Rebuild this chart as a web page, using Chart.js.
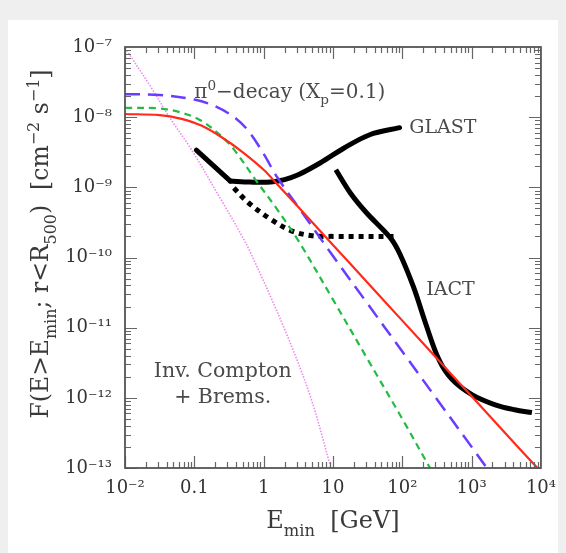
<!DOCTYPE html>
<html>
<head>
<meta charset="utf-8">
<script src="https://cdn.jsdelivr.net/npm/chart.js"></script>
<style>
html, body { margin: 0; padding: 0; background: #efefef; }
canvas { display: block; }
</style>
</head>
<body>
<canvas id="chart" width="566" height="553"></canvas>
<script>
// E_min in GeV, integral flux F(>E_min) in cm^-2 s^-1

// total (red, solid)
const totalE = [0.01, 0.0316, 0.0631, 0.126, 0.251, 0.501, 1, 1.58, 3.16, 10, 31.6, 100, 316, 1000, 3162, 8913];
const totalF = [1.11e-8, 1.07e-8, 9.55e-9, 7.59e-9, 5.13e-9, 3.16e-9, 1.78e-9, 1.10e-9, 5.25e-10, 1.51e-10, 4.37e-11, 1.26e-11, 3.63e-12, 1.05e-12, 3.02e-13, 1.0e-13];

// pi0-decay (blue, long dashes)
const pionE = [0.01, 0.0316, 0.1, 0.2, 0.398, 0.631, 1, 1.58, 3.16, 10, 31.6, 100, 316, 1000, 1660];
const pionF = [2.12e-8, 2.07e-8, 1.78e-8, 1.43e-8, 9.6e-9, 6.0e-9, 3.0e-9, 1.38e-9, 5.25e-10, 1.05e-10, 2.19e-11, 4.57e-12, 9.55e-13, 2.0e-13, 1.0e-13];

// green, short dashes
const greenE = [0.01, 0.0316, 0.0631, 0.126, 0.251, 0.380, 0.759, 1.48, 3.16, 10, 31.6, 100, 251];
const greenF = [1.36e-8, 1.33e-8, 1.17e-8, 8.91e-9, 5.25e-9, 3.39e-9, 1.29e-9, 5.25e-10, 1.74e-10, 2.51e-11, 3.55e-12, 5.01e-13, 1.0e-13];

// inverse Compton + bremsstrahlung (magenta, dotted)
const icE = [0.01, 0.0251, 0.0437, 0.0891, 0.251, 0.437, 0.661, 2.04, 4.79, 9.33];
const icF = [9.77e-8, 2.45e-8, 1.0e-8, 3.55e-9, 6.31e-10, 2.45e-10, 1.12e-10, 9.12e-12, 1.0e-12, 1.0e-13];

// GLAST sensitivity (black)
const glastE = [0.107, 0.331, 0.631, 1.26, 2.0, 3.16, 6.61, 14.5, 33.9, 91.2];
const glastF = [3.39e-9, 1.23e-9, 1.19e-9, 1.19e-9, 1.29e-9, 1.51e-9, 2.24e-9, 3.63e-9, 5.62e-9, 7.08e-9];

// black dotted
const dotE = [0.372, 0.603, 1.29, 2.51, 5.01, 10, 83.2];
const dotF = [9.77e-10, 6.03e-10, 3.47e-10, 2.40e-10, 2.04e-10, 2.0e-10, 2.0e-10];

// IACT sensitivity (black)
const iactE = [11.0, 17.8, 30.9, 66.1, 91.2, 145, 219, 339, 525, 1023, 2188, 4169, 7413];
const iactF = [1.78e-9, 8.32e-10, 4.27e-10, 1.95e-10, 1.15e-10, 3.80e-11, 1.12e-11, 3.47e-12, 1.82e-12, 1.10e-12, 7.94e-13, 6.76e-13, 6.17e-13];

const xTicks = [1e-2, 0.1, 1, 10, 1e2, 1e3, 1e4];
const xTickLabels = ['10⁻²', '0.1', '1', '10', '10²', '10³', '10⁴'];
const yTicks = [1e-13, 1e-12, 1e-11, 1e-10, 1e-9, 1e-8, 1e-7];
const yTickLabels = ['10⁻¹³', '10⁻¹²', '10⁻¹¹', '10⁻¹⁰', '10⁻⁹', '10⁻⁸', '10⁻⁷'];

const FONT = '"DejaVu Serif", "Liberation Serif", serif';

function pts(xs, ys) {
  return xs.map((x, i) => ({ x: x, y: ys[i] }));
}

// text with sub/superscript pieces
function richText(ctx, segs, x, y, size, align) {
  const parts = segs.map(s => {
    const fs = (s.sub || s.sup) ? size * 0.68 : size;
    ctx.font = fs + 'px ' + FONT;
    return { s: s, fs: fs, w: ctx.measureText(s.t).width };
  });
  const total = parts.reduce((a, p) => a + p.w, 0);
  let cx = align === 'center' ? x - total / 2 : (align === 'right' ? x - total : x);
  ctx.textAlign = 'left';
  ctx.textBaseline = 'alphabetic';
  parts.forEach(p => {
    ctx.font = p.fs + 'px ' + FONT;
    const dy = p.s.sub ? size * 0.32 : (p.s.sup ? -size * 0.4 : 0);
    ctx.fillText(p.s.t, cx, y + dy);
    cx += p.w;
  });
}

const framePlugin = {
  id: 'frame',
  beforeDraw(chart) {
    const c = chart.ctx;
    c.save();
    c.fillStyle = '#efefef';
    c.fillRect(0, 0, chart.width, chart.height);
    c.fillStyle = '#ffffff';
    c.fillRect(8, 20, 550, 533);
    c.restore();
  },
  afterDraw(chart) {
    const { ctx, chartArea: a, scales: { x, y } } = chart;
    ctx.save();
    // inward ticks on all four sides
    ctx.strokeStyle = '#666';
    ctx.lineWidth = 1.2;
    ctx.beginPath();
    for (let i = 0; i < xTicks.length - 1; i++) {
      for (let k = 1; k < 10; k++) {
        const px = Math.round(x.getPixelForValue(k * xTicks[i])) + 0.5;
        const len = k === 1 ? 12 : 6;
        ctx.moveTo(px, a.bottom); ctx.lineTo(px, a.bottom - len);
        ctx.moveTo(px, a.top); ctx.lineTo(px, a.top + len);
      }
    }
    for (let i = 0; i < yTicks.length - 1; i++) {
      for (let k = 1; k < 10; k++) {
        const py = Math.round(y.getPixelForValue(k * yTicks[i])) + 0.5;
        const len = k === 1 ? 12 : 6;
        ctx.moveTo(a.left, py); ctx.lineTo(a.left + len, py);
        ctx.moveTo(a.right, py); ctx.lineTo(a.right - len, py);
      }
    }
    ctx.stroke();
    ctx.strokeStyle = '#555';
    ctx.lineWidth = 1.8;
    ctx.strokeRect(a.left, a.top, a.width, a.height);

    // annotations
    ctx.fillStyle = '#4a4a4a';
    richText(ctx, [{ t: 'π' }, { t: '0', sup: true }, { t: '−decay (X' }, { t: 'p', sub: true }, { t: '=0.1)' }],
      x.getPixelForValue(0.1), y.getPixelForValue(1.88e-8), 20, 'left');
    richText(ctx, [{ t: 'GLAST' }], x.getPixelForValue(126), y.getPixelForValue(5.96e-9), 19, 'left');
    richText(ctx, [{ t: 'IACT' }], x.getPixelForValue(221), y.getPixelForValue(2.95e-11), 19, 'left');
    richText(ctx, [{ t: 'Inv. Compton' }], x.getPixelForValue(0.257), y.getPixelForValue(2.0e-12), 20.5, 'center');
    richText(ctx, [{ t: '+ Brems.' }], x.getPixelForValue(0.257), y.getPixelForValue(8.5e-13), 20.5, 'center');

    // axis titles
    ctx.fillStyle = '#3a3a3a';
    richText(ctx, [{ t: 'E' }, { t: 'min', sub: true }, { t: '  [GeV]' }], (a.left + a.right) / 2, 528, 24, 'center');
    ctx.translate(48, 244);
    ctx.rotate(-Math.PI / 2);
    richText(ctx, [{ t: 'F(E>E' }, { t: 'min', sub: true }, { t: '; r<R' }, { t: '500', sub: true },
      { t: ')  [cm' }, { t: '−2', sup: true }, { t: ' s' }, { t: '−1', sup: true }, { t: ']' }], 0, 0, 23.5, 'center');
    ctx.restore();
  }
};

const tickFont = { family: FONT, size: 18 };

new Chart(document.getElementById('chart'), {
  type: 'line',
  data: {
    datasets: [
      { data: pts(totalE, totalF), borderColor: '#ff2a1a', borderWidth: 2.2 },
      { data: pts(pionE, pionF), borderColor: '#6a3cff', borderWidth: 2.5, borderDash: [15, 8] },
      { data: pts(greenE, greenF), borderColor: '#22bb44', borderWidth: 2.2, borderDash: [7, 5] },
      { data: pts(icE, icF), borderColor: '#ee88ee', borderWidth: 1.6, borderDash: [1.5, 1.5] },
      { data: pts(glastE.slice(0, 2), glastF.slice(0, 2)), borderColor: '#000', borderWidth: 5, tension: 0, borderCapStyle: 'round' },
      { data: pts(glastE.slice(1), glastF.slice(1)), borderColor: '#000', borderWidth: 5, borderCapStyle: 'round' },
      { data: pts(iactE, iactF), borderColor: '#000', borderWidth: 5 },
      { data: pts(dotE, dotF), borderColor: '#000', borderWidth: 5, borderDash: [5, 5] }
    ]
  },
  options: {
    responsive: false,
    animation: false,
    devicePixelRatio: 1,
    layout: { padding: { top: 47, right: 21, left: 0, bottom: 0 } },
    plugins: { legend: { display: false }, tooltip: { enabled: false } },
    elements: {
      point: { radius: 0 },
      line: { tension: 0.35, fill: false }
    },
    scales: {
      x: {
        type: 'logarithmic', min: 1e-2, max: 1e4,
        afterBuildTicks: s => { s.ticks = xTicks.map(v => ({ value: v })); },
        afterFit: s => { s.height = 85; },
        grid: { display: false, drawTicks: false },
        border: { display: false },
        ticks: {
          autoSkip: false, maxRotation: 0, padding: 10, color: '#333', font: tickFont,
          callback: (v, i) => xTickLabels[i]
        }
      },
      y: {
        type: 'logarithmic', min: 1e-13, max: 1e-7,
        afterBuildTicks: s => { s.ticks = yTicks.map(v => ({ value: v })); },
        afterFit: s => { s.width = 125; },
        grid: { display: false, drawTicks: false },
        border: { display: false },
        ticks: {
          autoSkip: false, padding: 13, color: '#333', font: tickFont,
          callback: (v, i) => yTickLabels[i]
        }
      }
    }
  },
  plugins: [framePlugin]
});
</script>
</body>
</html>
